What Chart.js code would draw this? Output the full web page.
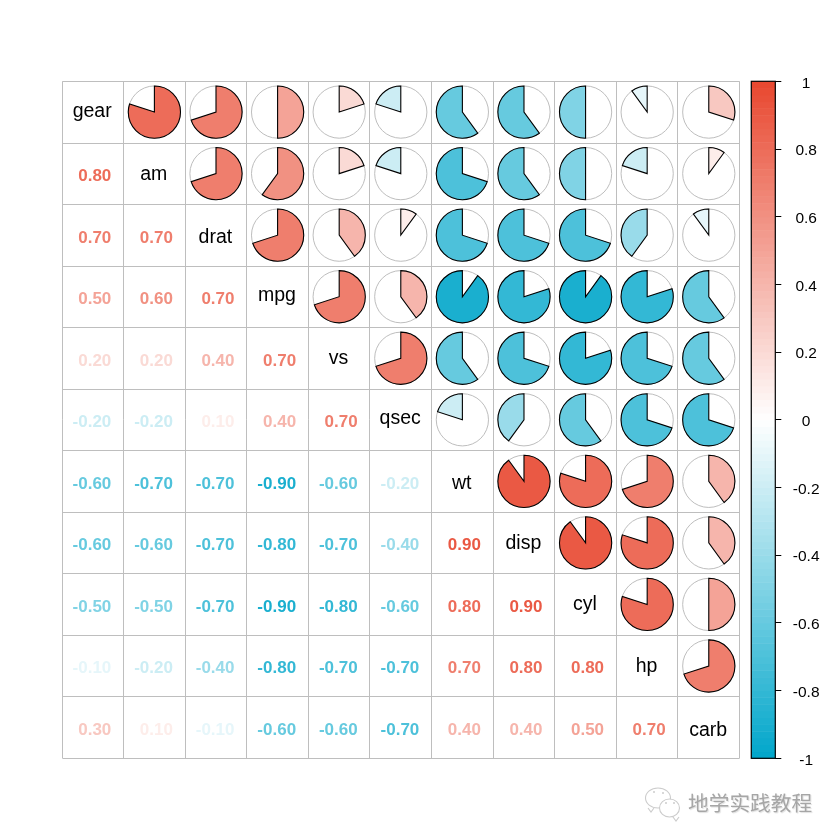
<!DOCTYPE html>
<html><head><meta charset="utf-8">
<style>html,body{margin:0;padding:0;background:#fff}canvas{display:block}</style>
<script src="https://cdn.jsdelivr.net/npm/chart.js@4"></script></head>
<body><canvas id="c" width="840" height="840"></canvas>
<script>
const variables = ["gear","am","drat","mpg","vs","qsec","wt","disp","cyl","hp","carb"];
const row_am   = [0.8];
const row_drat = [0.7,0.7];
const row_mpg  = [0.5,0.6,0.7];
const row_vs   = [0.2,0.2,0.4,0.7];
const row_qsec = [-0.2,-0.2,0.1,0.4,0.7];
const row_wt   = [-0.6,-0.7,-0.7,-0.9,-0.6,-0.2];
const row_disp = [-0.6,-0.6,-0.7,-0.8,-0.7,-0.4,0.9];
const row_cyl  = [-0.5,-0.5,-0.7,-0.9,-0.8,-0.6,0.8,0.9];
const row_hp   = [-0.1,-0.2,-0.4,-0.8,-0.7,-0.7,0.7,0.8,0.8];
const row_carb = [0.3,0.1,-0.1,-0.6,-0.6,-0.7,0.4,0.4,0.5,0.7];
const lowerRows = [[],row_am,row_drat,row_mpg,row_vs,row_qsec,row_wt,row_disp,row_cyl,row_hp,row_carb];
const legendTicks = [-1,-0.8,-0.6,-0.4,-0.2,0,0.2,0.4,0.6,0.8,1];
const watermark = "地学实践教程";

const POS=[232,71,47], NEG=[0,166,202];
function col(v){const t=Math.abs(v),c=v>=0?POS:NEG;
  return `rgb(${c.map(k=>Math.round(255+(k-255)*t)).join(",")})`;}

const textPts=[], piePts=[], namePts=[];
variables.forEach((n,i)=>namePts.push({x:i+.5,y:i+.5,name:n}));
lowerRows.forEach((r,i)=>r.forEach((v,j)=>{
  textPts.push({x:j+.5,y:i+.5,v});
  piePts.push({x:i+.5,y:j+.5,v});
}));

function bubble(ctx,cx,cy,rx,ry,tx,ty){
  ctx.beginPath();ctx.ellipse(cx,cy,rx,ry,0,0,2*Math.PI);
  ctx.moveTo(tx-3,ty-4);ctx.lineTo(tx,ty);ctx.lineTo(tx+3,ty-4);ctx.stroke();
}

const corrPlugin={id:"corr",
 beforeDraw(ch){const c=ch.ctx;c.save();c.fillStyle="#fff";c.fillRect(0,0,840,840);c.restore();},
 beforeDatasetsDraw(ch){
  const {ctx,scales:{x,y,legendAxis:L}}=ch;
  ctx.save();
  ctx.strokeStyle="#bebebe";ctx.lineWidth=1;
  const x0=Math.floor(x.getPixelForValue(0))+.5,x1=Math.floor(x.getPixelForValue(variables.length))+.5;
  for(let i=0;i<=variables.length;i++){
    const px=Math.floor(x.getPixelForValue(i))+.5,py=Math.floor(y.getPixelForValue(i)+.2)+.5;
    ctx.beginPath();ctx.moveTo(px,y.top);ctx.lineTo(px,y.bottom);ctx.stroke();
    ctx.beginPath();ctx.moveTo(x0,py);ctx.lineTo(x1,py);ctx.stroke();
  }
  // colour legend
  const bl=x.getPixelForValue(11.19), br=x.right;
  const steps=100;
  for(let k=0;k<steps;k++){
    const a=-1+2*k/steps,b=-1+2*(k+1)/steps;
    ctx.fillStyle=col((a+b)/2);
    const t=L.getPixelForValue(b),e=L.getPixelForValue(a);
    ctx.fillRect(bl,t,br-bl,e-t+.5);
  }
  ctx.strokeStyle="#000";ctx.lineWidth=1.2;
  ctx.strokeRect(bl,L.top,br-bl,L.bottom-L.top);
  ctx.restore();
 },
 afterDatasetsDraw(ch){
  const {ctx,scales:{x,y}}=ch;
  ctx.save();
  const R=x.getPixelForValue(1)-x.getPixelForValue(0);
  const r=R*0.424;
  piePts.forEach(p=>{
    const cx=x.getPixelForValue(p.x),cy=y.getPixelForValue(p.y);
    ctx.beginPath();ctx.arc(cx,cy,r,0,2*Math.PI);ctx.strokeStyle="#bebebe";ctx.lineWidth=1;ctx.stroke();
    const s=-Math.PI/2,e=s+2*Math.PI*p.v;
    ctx.beginPath();ctx.moveTo(cx,cy);ctx.arc(cx,cy,r,s,e,p.v<0);ctx.closePath();
    ctx.fillStyle=col(p.v);ctx.fill();
    ctx.strokeStyle="#000";ctx.lineWidth=1.1;ctx.stroke();
  });
  ctx.textBaseline="middle";
  ctx.textAlign="right";
  ctx.font='bold 17px "Liberation Sans"';
  textPts.forEach(p=>{ctx.fillStyle=col(p.v);
    ctx.fillText(p.v.toFixed(2),x.getPixelForValue(p.x)+18.5,y.getPixelForValue(p.y)+2.8);});
  ctx.textAlign="center";ctx.textBaseline="alphabetic";
  ctx.fillStyle="#000";ctx.font='19.5px "Liberation Sans"';
  namePts.forEach(p=>{
    const m=ctx.measureText(p.name);
    const dy=(m.actualBoundingBoxAscent-m.actualBoundingBoxDescent)/2;
    ctx.fillText(p.name,x.getPixelForValue(p.x)-.6,y.getPixelForValue(p.y)+dy+.5);
  });
  // watermark
  ctx.strokeStyle="#cccccc";ctx.lineWidth=1.1;
  bubble(ctx,658,798,12.5,10,651,812);
  ctx.fillStyle="#fff";
  ctx.beginPath();ctx.ellipse(669.5,808,10,9,0,0,2*Math.PI);ctx.fill();
  bubble(ctx,669.5,808,10,9,676,821);
  ctx.fillStyle="#cccccc";
  [[654,792],[663,793],[666,803],[674,803]].forEach(q=>{ctx.beginPath();ctx.arc(q[0],q[1],1,0,2*Math.PI);ctx.fill();});
  ctx.textAlign="left";ctx.textBaseline="middle";ctx.font='20.7px "Noto Sans CJK SC"';ctx.fillStyle="#a6a6a6";
  ctx.shadowColor="#e0e0e0";ctx.shadowOffsetX=1;ctx.shadowOffsetY=1;ctx.shadowBlur=1;
  ctx.fillText(watermark,688,803);
  ctx.restore();
 }};

new Chart(document.getElementById("c"),{
 type:"scatter",
 data:{datasets:[
  {label:"lower",data:textPts,pointRadius:0,showLine:false},
  {label:"upper",data:piePts,pointRadius:0,showLine:false},
  {label:"names",data:namePts,pointRadius:0,showLine:false}]},
 plugins:[corrPlugin],
 options:{responsive:false,animation:false,devicePixelRatio:1,
  layout:{padding:{left:62,top:81.3,bottom:81.7,right:0}},
  plugins:{legend:{display:false},tooltip:{enabled:false}},
  scales:{
   x:{type:"linear",display:false,min:0,max:11.58},
   y:{type:"linear",display:false,min:0,max:11,reverse:true},
   legendAxis:{type:"linear",position:"right",min:-1,max:1,
    afterFit(s){s.width=64.7;},
    afterBuildTicks(s){s.ticks=legendTicks.map(v=>({value:v}));},
    afterUpdate(s){
      if(s.__shifted)return;s.__shifted=true;
      const draw=s.drawLabels;
      s.drawLabels=function(a){s.ctx.save();s.ctx.translate(0,2);draw.call(s,a);s.ctx.restore();};
    },
    border:{display:false},
    grid:{drawOnChartArea:false,tickLength:6,color:"#000",lineWidth:1},
    ticks:{crossAlign:"center",padding:11.5,autoSkip:false,color:"#000",maxRotation:0,
      font:{family:'"Liberation Sans"',size:15.5},
      callback:v=>String(Number(v.toFixed(1)))}}
  }}});
</script></body></html>
